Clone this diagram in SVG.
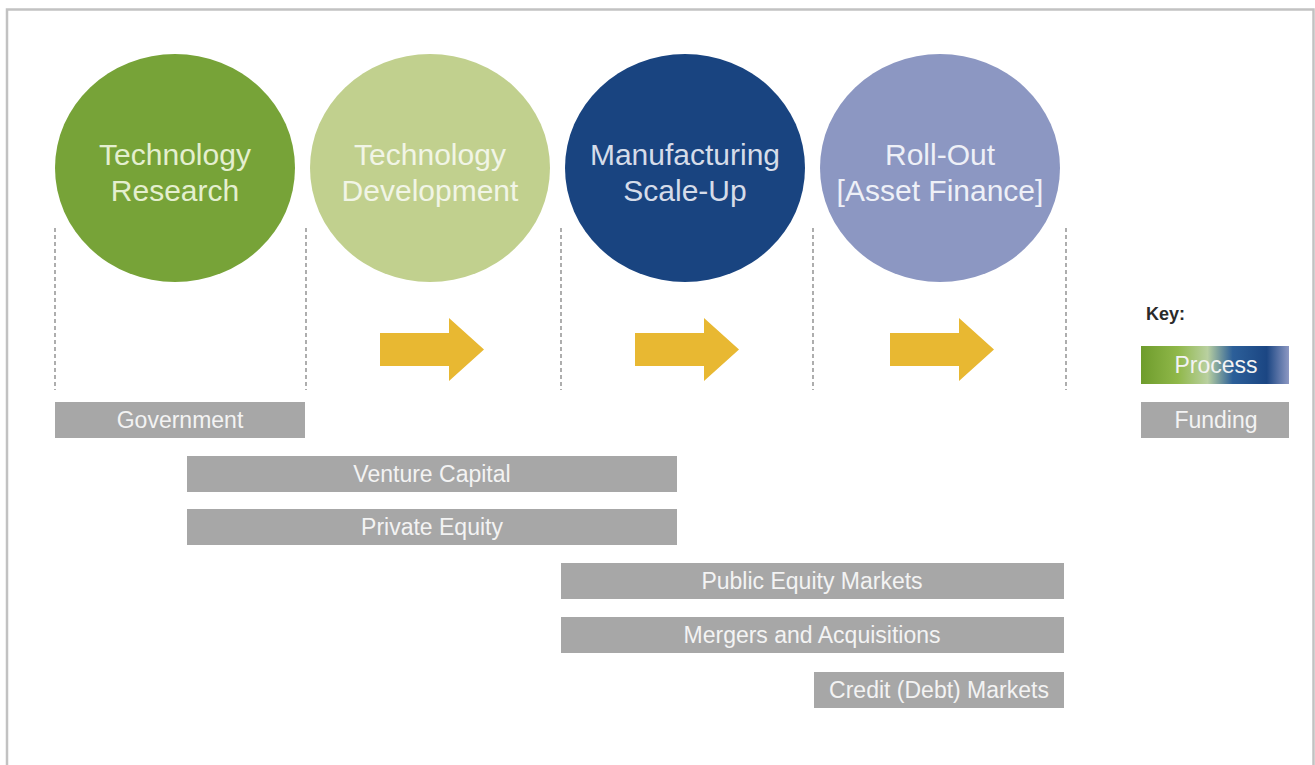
<svg xmlns="http://www.w3.org/2000/svg" width="1315" height="765" viewBox="0 0 1315 765">
  <defs>
    <style>
      .stage-label { font-family: "Liberation Sans", Arial, sans-serif; font-size: 30px; text-anchor: middle; }
      .bar { fill: #a7a7a7; }
      .bar-label { font-family: "Liberation Sans", Arial, sans-serif; font-size: 23px; fill: #f3f3f3; text-anchor: middle; }
      .divider { stroke: #9a9a9a; stroke-width: 1.6; stroke-dasharray: 4 3; fill: none; }
      .step-arrow { fill: #e8b832; }
    </style>
    <linearGradient id="processGrad" x1="0" y1="0" x2="1" y2="0">
      <stop offset="0" stop-color="#6e9c2c"/>
      <stop offset="0.25" stop-color="#90b84a"/>
      <stop offset="0.45" stop-color="#b9d0a0"/>
      <stop offset="0.62" stop-color="#2c5f99"/>
      <stop offset="0.85" stop-color="#1b4683"/>
      <stop offset="1" stop-color="#8d98c3"/>
    </linearGradient>
    <path id="arrowShape" d="M0,15 H69 V0 L104,31.5 L69,63 V48 H0 Z"/>
  </defs>

  <!-- page background and frame -->
  <rect x="0" y="0" width="1315" height="765" fill="#ffffff"/>
  <path d="M7,770 V9.5 H1313.5 V770" fill="none" stroke="#c2c2c2" stroke-width="2.5"/>

  <!-- process stages -->
  <g id="stage-research">
    <ellipse cx="175" cy="168" rx="120" ry="114" fill="#77a338"/>
    <text class="stage-label" fill="#e4efcf" x="175" y="165">Technology</text>
    <text class="stage-label" fill="#e4efcf" x="175" y="201">Research</text>
  </g>
  <g id="stage-development">
    <ellipse cx="430" cy="168" rx="120" ry="114" fill="#c1d08e"/>
    <text class="stage-label" fill="#f1f5e6" x="430" y="165">Technology</text>
    <text class="stage-label" fill="#f1f5e6" x="430" y="201">Development</text>
  </g>
  <g id="stage-scaleup">
    <ellipse cx="685" cy="168" rx="120" ry="114" fill="#194480"/>
    <text class="stage-label" fill="#d5dce9" x="685" y="165">Manufacturing</text>
    <text class="stage-label" fill="#d5dce9" x="685" y="201">Scale-Up</text>
  </g>
  <g id="stage-rollout">
    <ellipse cx="940" cy="168" rx="120" ry="114" fill="#8c97c2"/>
    <text class="stage-label" fill="#eef0f7" x="940" y="165">Roll-Out</text>
    <text class="stage-label" fill="#eef0f7" x="940" y="201">[Asset Finance]</text>
  </g>

  <!-- stage dividers and progression arrows -->
  <g id="connectors">
    <line class="divider" x1="55" y1="228" x2="55" y2="390"/>
    <line class="divider" x1="306" y1="228" x2="306" y2="390"/>
    <line class="divider" x1="561" y1="228" x2="561" y2="390"/>
    <line class="divider" x1="813" y1="228" x2="813" y2="390"/>
    <line class="divider" x1="1066" y1="228" x2="1066" y2="390"/>
    <use href="#arrowShape" class="step-arrow" x="380" y="318"/>
    <use href="#arrowShape" class="step-arrow" x="635" y="318"/>
    <use href="#arrowShape" class="step-arrow" x="890" y="318"/>
  </g>

  <!-- funding sources -->
  <g id="fund-government">
    <rect class="bar" x="55" y="402" width="250" height="36"/>
    <text class="bar-label" x="180" y="428">Government</text>
  </g>
  <g id="fund-venture">
    <rect class="bar" x="187" y="456" width="490" height="36"/>
    <text class="bar-label" x="432" y="482">Venture Capital</text>
  </g>
  <g id="fund-private-equity">
    <rect class="bar" x="187" y="509" width="490" height="36"/>
    <text class="bar-label" x="432" y="535">Private Equity</text>
  </g>
  <g id="fund-public-equity">
    <rect class="bar" x="561" y="563" width="503" height="36"/>
    <text class="bar-label" x="812" y="589">Public Equity Markets</text>
  </g>
  <g id="fund-mna">
    <rect class="bar" x="561" y="617" width="503" height="36"/>
    <text class="bar-label" x="812" y="643">Mergers and Acquisitions</text>
  </g>
  <g id="fund-credit">
    <rect class="bar" x="814" y="672" width="250" height="36"/>
    <text class="bar-label" x="939" y="698">Credit (Debt) Markets</text>
  </g>

  <!-- legend -->
  <g id="legend">
    <text x="1146" y="320" font-family="'Liberation Sans', Arial, sans-serif" font-size="18" font-weight="bold" fill="#2a2a2a">Key:</text>
    <g id="legend-process">
      <rect x="1141" y="346" width="148" height="38" fill="url(#processGrad)"/>
      <text class="bar-label" x="1216" y="373" font-size="20" fill="#e8eef5">Process</text>
    </g>
    <g id="legend-funding">
      <rect class="bar" x="1141" y="402" width="148" height="36"/>
      <text class="bar-label" x="1216" y="428" font-size="20">Funding</text>
    </g>
  </g>
</svg>
